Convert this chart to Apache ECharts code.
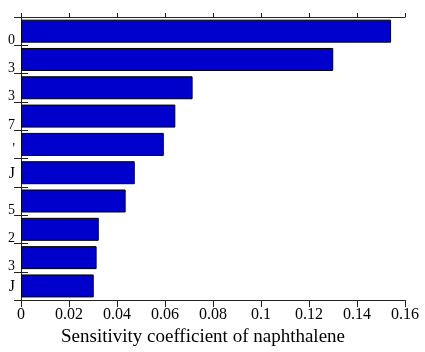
<!DOCTYPE html>
<html>
<head>
<meta charset="utf-8">
<script src="https://cdn.jsdelivr.net/npm/echarts@6/dist/echarts.min.js"></script>
<style>
  html, body { margin: 0; padding: 0; background: #fff; }
  #chart { width: 425px; height: 352px; }
</style>
</head>
<body>
<div id="chart"></div>
<script>
// Reaction labels (only their trailing characters fit in the margin)
var reactions = ['0', '3', '3', '7', "'", 'J', '5', '2', '3', 'J'];
// Sensitivity coefficients of naphthalene, one per reaction
var sensitivity = [0.1542, 0.1301, 0.0715, 0.0643, 0.0595, 0.0474, 0.0436, 0.0324, 0.0315, 0.0303];
var xTicks = { min: 0, max: 0.16, step: 0.02 };

var serif = "'Liberation Serif', 'Times New Roman', serif";
var axisColor = '#222';

var chart = echarts.init(document.getElementById('chart'), null, { renderer: 'canvas' });

chart.setOption({
  animation: false,
  backgroundColor: '#fff',
  grid: { left: 21, right: 20, top: 17, bottom: 50, containLabel: false },
  xAxis: [
    {
      type: 'value', position: 'bottom',
      min: xTicks.min, max: xTicks.max, interval: xTicks.step,
      axisLine: { show: true, lineStyle: { color: axisColor, width: 1 } },
      axisTick: { show: true, inside: false, length: 7, lineStyle: { color: axisColor } },
      splitLine: { show: false },
      axisLabel: {
        color: '#000', fontFamily: serif, fontSize: 16, margin: 7,
        formatter: function (v) { return String(+v.toFixed(2)); }
      },
      name: 'Sensitivity coefficient of naphthalene',
      nameLocation: 'middle', nameGap: 26,
      nameTextStyle: { color: '#000', fontFamily: serif, fontSize: 19, padding: [0, 20, 0, 0] }
    },
    {
      type: 'value', position: 'top',
      min: xTicks.min, max: xTicks.max, interval: xTicks.step,
      axisLine: { show: true, lineStyle: { color: axisColor, width: 1 } },
      axisTick: { show: true, inside: false, length: 4, lineStyle: { color: axisColor } },
      splitLine: { show: false },
      axisLabel: { show: false }
    }
  ],
  yAxis: [
    {
      type: 'category', position: 'left', inverse: true,
      data: reactions,
      axisLine: { show: true, lineStyle: { color: axisColor, width: 1 } },
      axisTick: { show: true, inside: false, length: 7, lineStyle: { color: axisColor } },
      splitLine: { show: false },
      axisLabel: {
        color: '#000', fontFamily: serif, fontSize: 14, margin: 6,
        formatter: function (v) {
          if (/[0-9]/.test(v)) return '{d|' + v + '}';
          if (v === "'") return '{q|' + v + '}';
          return '{p|' + v + '}';
        },
        rich: {
          d: { fontFamily: serif, fontSize: 14, color: '#000', padding: [18, 0, 0, 0] },
          q: { fontFamily: serif, fontSize: 14, color: '#000', padding: [10, 0, 0, 0] },
          p: { fontFamily: serif, fontSize: 16, color: '#000', padding: [2, 0, 0, 0] }
        }
      }
    },
    {
      type: 'category', position: 'right', inverse: true,
      data: reactions,
      axisLine: { show: true, lineStyle: { color: axisColor, width: 1 } },
      axisTick: { show: true, inside: false, length: 7, lineStyle: { color: axisColor } },
      splitLine: { show: false },
      axisLabel: { show: false }
    }
  ],
  series: [
    {
      type: 'bar',
      xAxisIndex: 0, yAxisIndex: 0,
      data: sensitivity,
      barWidth: 23,
      itemStyle: { color: '#0000cd', borderColor: '#000', borderWidth: 1 }
    }
  ]
});
</script>
</body>
</html>
